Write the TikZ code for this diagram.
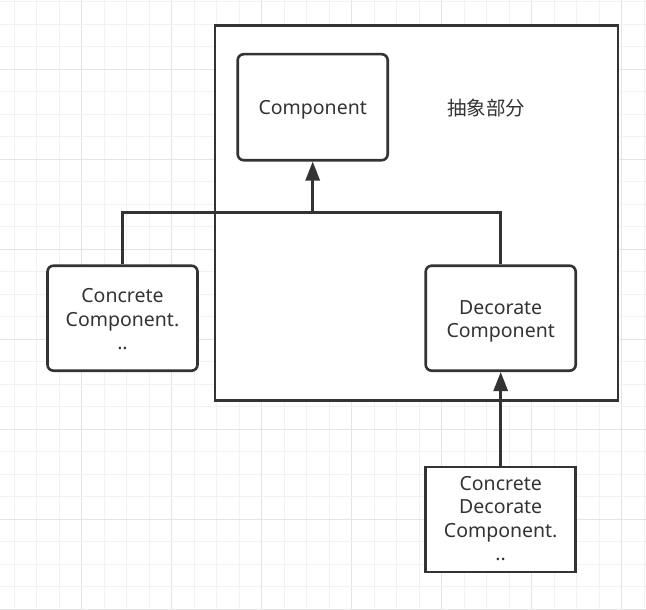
\documentclass[tikz,border=0pt]{standalone}
\usepackage{fontspec}
\setmainfont{Noto Sans}
\newfontfamily\cjkfont{Noto Sans CJK SC}
\usetikzlibrary{arrows.meta}
\definecolor{ink}{HTML}{333333}
\definecolor{gridminor}{HTML}{F2F2F2}
\definecolor{gridmajor}{HTML}{E4E4E4}
\tikzset{
  box/.style={draw=ink, line width=2.6pt, fill=white, rounded corners=6pt,
    minimum width=150pt, minimum height=105pt, inner sep=0pt},
  sharpbox/.style={box, rounded corners=0pt},
  boxtext/.style={align=center, text=ink, inner sep=0pt,
    font=\fontsize{19.5}{23.6}\selectfont},
  link/.style={draw=ink, line width=2.8pt},
  arrowlink/.style={link, -{Triangle[length=19pt,width=14pt]}},
}
\begin{document}
\begin{tikzpicture}[x=1pt,y=-1pt]
\useasboundingbox (0,0) rectangle (646,610);
\fill[white] (0,0) rectangle (646,610);
% grid
\foreach \i in {0,...,28} {
  \pgfmathsetmacro{\xx}{14.3+22.5*\i}
  \pgfmathtruncatemacro{\m}{mod(\i+1,4)}
  \ifnum\m=0
    \draw[gridmajor, line width=1pt] (\xx,0) -- (\xx,610);
  \else
    \draw[gridminor, line width=1pt] (\xx,0) -- (\xx,610);
  \fi
}
\foreach \i in {0,...,27} {
  \pgfmathsetmacro{\yy}{1.7+22.5*\i}
  \pgfmathtruncatemacro{\m}{mod(\i+1,4)}
  \ifnum\m=0
    \draw[gridmajor, line width=1pt] (0,\yy) -- (646,\yy);
  \else
    \draw[gridminor, line width=1pt] (0,\yy) -- (646,\yy);
  \fi
}
% abstract frame
\node[draw=ink, line width=2.6pt, fill=white, minimum width=403pt, minimum height=375pt, inner sep=0pt]
  (abs) at (416.5,212.8) {};
\node[text=ink, font=\cjkfont\fontsize{19.5}{23.4}\selectfont] (lbl) at (486,108) {抽象部分};
% boxes
\node[box, minimum height=106pt] (comp) at (312.7,107.2) {};
\node[box] (cc) at (122.5,318.2) {};
\node[box] (dc) at (500.7,318.2) {};
\node[sharpbox] (cdc) at (500.7,519.5) {};
% texts
\node[boxtext] (compt) at ([yshift=-3pt]comp.center) {Component};
\node[boxtext] (cct) at ([yshift=-1pt]cc.center) {Concrete\\Component.\\..};
\node[boxtext] (dct) at ([yshift=-3pt]dc.center) {Decorate\\Component};
\node[boxtext] (cdct) at ([yshift=1pt]cdc.center) {Concrete\\Decorate\\Component.\\..};
% connectors
\coordinate (j) at (312.7,212.8);
\draw[link] (cc.north) |- (j) -| (dc.north);
\draw[arrowlink] (j) -- (comp.south);
\draw[arrowlink] (cdc.north) -- (dc.south);
\end{tikzpicture}
\end{document}
